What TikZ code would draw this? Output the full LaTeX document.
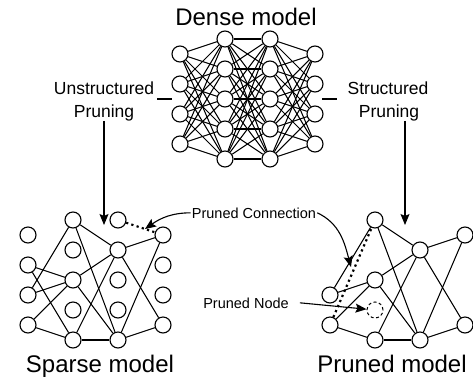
\documentclass[tikz,border=0pt]{standalone}
\usepackage{fontspec}
\setmainfont{Liberation Sans}
\usetikzlibrary{arrows.meta}
\begin{document}
\begin{tikzpicture}[x=1pt,y=-1pt,
  neuron/.style={circle,draw,line width=1.1pt,minimum size=16pt,inner sep=0pt},
  ghost/.style={circle,draw,line width=1pt,dash pattern=on 3pt off 2.5pt,minimum size=16pt,inner sep=0pt},
  conn/.style={line width=1.05pt},
  cut/.style={line width=2.2pt,dash pattern=on 2.2pt off 3.3pt},
  title/.style={font=\fontsize{24}{28}\selectfont,anchor=base,inner sep=0pt},
  lab/.style={font=\fontsize{17.5}{21}\selectfont,anchor=base,inner sep=0pt},
  note/.style={font=\fontsize{14.5}{17}\selectfont,anchor=base,inner sep=1pt},
  arr/.style={line width=1.1pt,-{Stealth[length=11pt,width=9pt,inset=2pt]}},
]
\useasboundingbox (0,0) rectangle (473,378);

% ---------- Dense model ----------
\foreach \r/\y in {1/54,2/84,3/114,4/144} {
  \node[neuron] (d1\r) at (180,\y) {};
  \node[neuron] (d4\r) at (315,\y) {};
}
\foreach \r/\y in {1/39,2/69,3/99,4/129,5/159} {
  \node[neuron] (d2\r) at (225,\y) {};
  \node[neuron] (d3\r) at (270,\y) {};
}
\foreach \i in {1,...,4} \foreach \j in {1,...,5} {
  \draw[conn] (d1\i) -- (d2\j);
  \draw[conn] (d3\j) -- (d4\i);
}
\foreach \i in {1,...,5} \foreach \j in {1,...,5} {
  \draw[conn] (d2\i) -- (d3\j);
}
\node[title] (tdense) at (246,25) {Dense model};

% ---------- Sparse model ----------
\foreach \r/\y in {1/235,2/265,3/295,4/325} {
  \node[neuron] (s1\r) at (28,\y) {};
  \node[neuron] (s4\r) at (163,\y) {};
}
\foreach \r/\y in {1/220,2/250,3/280,4/310,5/340} {
  \node[neuron] (s2\r) at (73,\y) {};
  \node[neuron] (s3\r) at (118,\y) {};
}
\foreach \a/\b in {s12/s23,s12/s25,s13/s21,s13/s23,s14/s23,s14/s25,
                   s21/s32,s21/s35,s23/s32,s23/s35,s25/s32,s25/s35,
                   s32/s41,s32/s44,s35/s41,s35/s44} {
  \draw[conn] (\a) -- (\b);
}
\draw[cut] (s31) -- (s41);
\node[title] (tsparse) at (100,372) {Sparse model};

% ---------- Pruned model ----------
\node[neuron] (p13) at (330,295) {};
\node[neuron] (p14) at (330,325) {};
\node[neuron] (p21) at (375,220) {};
\node[neuron] (p23) at (375,280) {};
\node[ghost]  (p24) at (375,310) {};
\node[neuron] (p25) at (375,340) {};
\node[neuron] (p32) at (420,250) {};
\node[neuron] (p35) at (420,340) {};
\node[neuron] (p41) at (465,235) {};
\node[neuron] (p44) at (465,325) {};
\foreach \a/\b in {p13/p21,p13/p23,p14/p23,p14/p25,
                   p21/p32,p21/p35,p23/p32,p23/p35,p25/p32,p25/p35,
                   p32/p41,p32/p44,p35/p41,p35/p44} {
  \draw[conn] (\a) -- (\b);
}
\draw[cut] (p14) -- (p21);
\node[title] (tpruned) at (392,372) {Pruned model};

% ---------- Pruning labels and arrows ----------
\node[lab] (u1) at (104,94) {Unstructured};
\node[lab] (u2) at (104,117) {Pruning};
\node[lab] (st1) at (388,94) {Structured};
\node[lab] (st2) at (389,117) {Pruning};
\coordinate (ls1) at (157,99);
\coordinate (ls2) at (172,99);
\coordinate (rs1) at (322,99);
\coordinate (rs2) at (337,99);
\draw[conn] (ls1) -- (ls2);
\draw[conn] (rs1) -- (rs2);
\coordinate (ua) at (104,225);
\coordinate (sa) at (405,225);
\draw[arr] (u2.south) -- (ua);
\draw[arr] (st2.south -| sa) -- (sa);

% ---------- Notes ----------
\node[note] (pclab) at (254,218) {Pruned Connection};
\coordinate (pc1) at (145,229);
\coordinate (pc2) at (351,267);
\draw[arr] (pclab.west) to[out=180,in=35] (pc1);
\draw[arr] (pclab.east) to[out=-25,in=105] (pc2);
\node[note] (pnlab) at (246,308) {Pruned Node};
\draw[arr] ([xshift=10pt]pnlab.east) -- (p24);
\end{tikzpicture}
\end{document}
